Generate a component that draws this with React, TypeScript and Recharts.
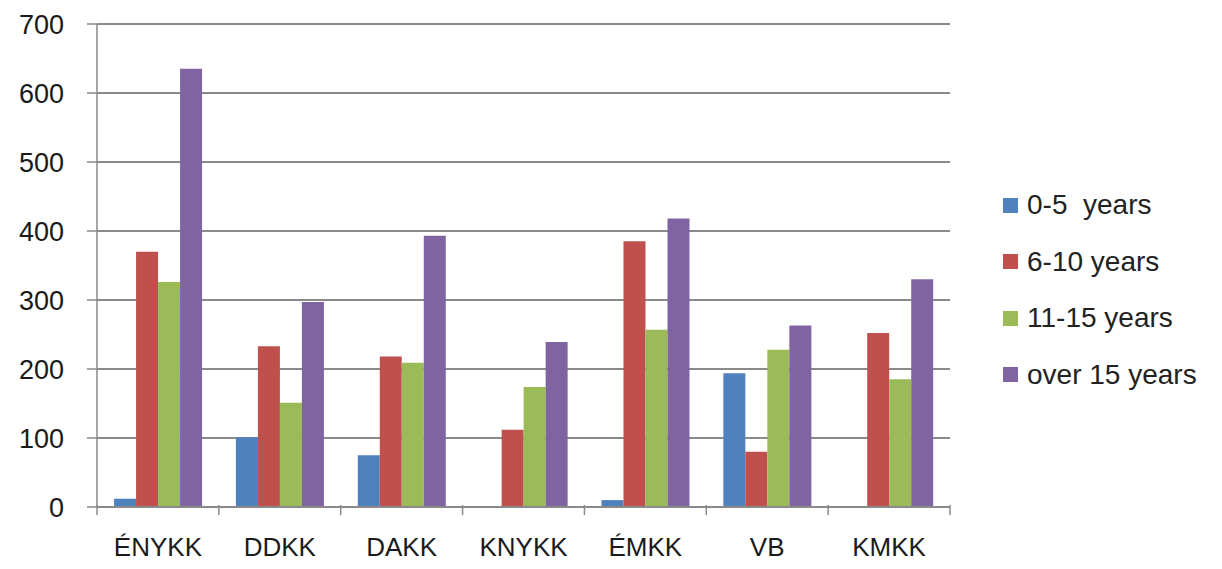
import { BarChart, Bar, XAxis, YAxis, CartesianGrid } from "recharts";

const categories = ["ÉNYKK", "DDKK", "DAKK", "KNYKK", "ÉMKK", "VB", "KMKK"];
const years0to5 = [12, 101, 75, 0, 10, 194, 0];
const years6to10 = [370, 233, 218, 112, 385, 80, 252];
const years11to15 = [326, 151, 209, 174, 257, 228, 185];
const yearsOver15 = [635, 297, 393, 239, 418, 263, 330];
const yTicks = [0, 100, 200, 300, 400, 500, 600, 700];

const seriesNames = ["0-5  years", "6-10 years", "11-15 years", "over 15 years"];
const seriesKeys = ["a", "b", "c", "d"];
const colors = ["#4F81BD", "#C0504D", "#9BBB59", "#8064A2"];

const data = categories.map((name, i) => ({
  name,
  a: years0to5[i],
  b: years6to10[i],
  c: years11to15[i],
  d: yearsOver15[i],
}));

const W = 1214;
const H = 561;
const left = 89;
const right = 942;
const band = (right - left) / categories.length;
const font = "'Liberation Sans', Arial, sans-serif";

const CatTick = (props: any) => {
  const { x, y, payload, index } = props;
  return (
    <g>
      <line x1={x - band / 2} y1={y - 10} x2={x - band / 2} y2={y} stroke="#8a8a8a" strokeWidth={1.5} />
      {index === categories.length - 1 && (
        <line x1={x + band / 2} y1={y - 10} x2={x + band / 2} y2={y} stroke="#8a8a8a" strokeWidth={1.5} />
      )}
      <text x={x} y={y + 41} textAnchor="middle" fontSize={26} fill="#1a1a1a" fontFamily={font}>
        {payload.value}
      </text>
    </g>
  );
};

export default function App() {
  return (
    <div style={{ position: "relative", width: W, height: H, background: "#fff" }}>
      <BarChart
        width={W}
        height={H}
        data={data}
        margin={{ top: 16, right: W - right, bottom: 0, left: 0 }}
        barCategoryGap="14%"
        barGap={0}
      >
        <CartesianGrid horizontal={true} vertical={false} stroke="#8a8a8a" strokeWidth={2} />
        <XAxis
          dataKey="name"
          height={62}
          tickLine={false}
          axisLine={{ stroke: "#8a8a8a", strokeWidth: 2 }}
          tick={<CatTick />}
          interval={0}
        />
        <YAxis
          domain={[0, 700]}
          ticks={yTicks}
          width={left}
          tickSize={10}
          tickMargin={23}
          axisLine={{ stroke: "#8a8a8a", strokeWidth: 1.5 }}
          tickLine={{ stroke: "#8a8a8a", strokeWidth: 1.5 }}
          tick={{ fontSize: 27, fill: "#1a1a1a", fontFamily: font }}
        />
        {seriesKeys.map((k, i) => (
          <Bar key={k} dataKey={k} name={seriesNames[i]} fill={colors[i]} isAnimationActive={false} />
        ))}
      </BarChart>
      <div style={{ position: "absolute", left: 995, top: 169 }}>
        {seriesNames.map((s, i) => (
          <div key={s} style={{ display: "flex", alignItems: "center", height: 56.5 }}>
            <span style={{ width: 15, height: 15, background: colors[i], marginRight: 9, display: "inline-block" }} />
            <span style={{ fontFamily: font, fontSize: 28, color: "#222", whiteSpace: "pre" }}>{s}</span>
          </div>
        ))}
      </div>
    </div>
  );
}
